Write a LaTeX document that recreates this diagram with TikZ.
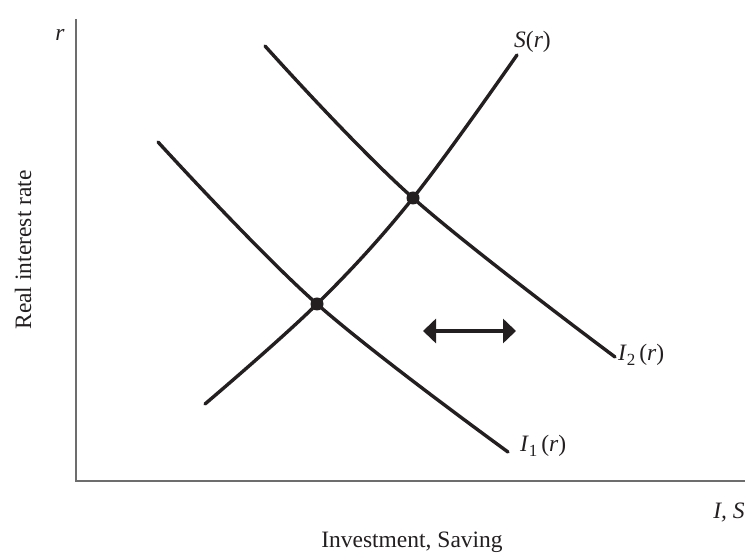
\documentclass[tikz,border=0pt]{standalone}
\usepackage{fontspec}
\setmainfont{Liberation Serif}
\usetikzlibrary{arrows.meta}
\definecolor{ink}{HTML}{231F20}
\definecolor{axisgray}{HTML}{6D6D6D}
\begin{document}
\begin{tikzpicture}[x=1pt,y=1pt,
  axisline/.style={draw=axisgray,line width=1.6pt},
  curve/.style={draw=ink,line width=3.4pt},
  dot/.style={circle,fill=ink,inner sep=0pt,minimum size=13pt},
  lbl/.style={inner sep=0pt,font=\fontsize{23.5}{26}\selectfont,text=ink},
  shiftarrow/.style={draw=ink,line width=3.4pt,{Triangle[length=13pt,width=24pt]}-{Triangle[length=13pt,width=24pt]}}]
\useasboundingbox (0,0) rectangle (747,554);
% axes
\coordinate (origin) at (76,73);
\coordinate (ytop) at (76,535);
\coordinate (xend) at (745,73);
\draw[axisline] (ytop) -- (origin) -- (xend);
% equilibrium points
\node[dot] (e1) at (317,250) {};
\node[dot] (e2) at (413,356) {};
% curves
\draw[curve,line cap=round] plot[smooth,tension=0.6] coordinates {(205,150) (317,250) (413,356) (517,499)};
\draw[curve,line cap=round] plot[smooth,tension=0.6] coordinates {(158,412) (317,250) (508,102)};
\draw[curve,line cap=round] plot[smooth,tension=0.6] coordinates {(265,508) (413,356) (615,197)};
% shift arrow
\coordinate (aL) at (423,223);
\coordinate (aR) at (516,223);
\draw[shiftarrow] (aL) -- (aR);
% labels
\node[lbl] (rl) at (60,519) {\textit{r}};
\node[lbl,anchor=west] (sl) at (514,512) {\textit{S}(\textit{r})};
\node[lbl,anchor=west] (i2l) at (618,199) {\textit{I}\raisebox{-0.45ex}{\fontsize{17}{17}\selectfont 2}\,(\textit{r})};
\node[lbl,anchor=west] (i1l) at (520,108) {\textit{I}\raisebox{-0.45ex}{\fontsize{17}{17}\selectfont 1}\,(\textit{r})};
\node[lbl] (isl) at (729,41) {\textit{I, S}};
\node[lbl] (xl) at (412,12) {Investment, Saving};
\node[lbl,rotate=90] (yl) at (23,304) {Real interest rate};
\end{tikzpicture}
\end{document}
